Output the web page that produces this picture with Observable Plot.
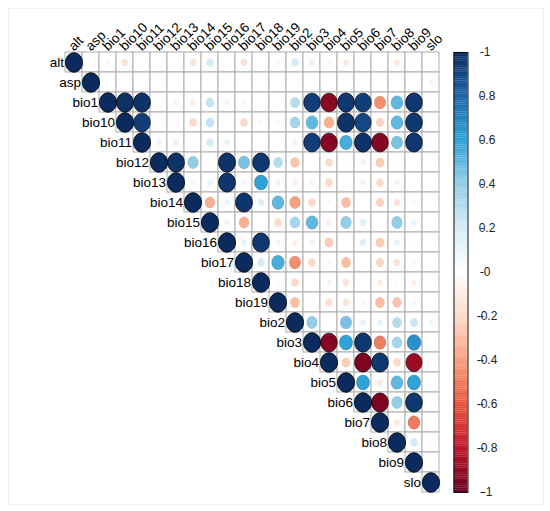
<!DOCTYPE html>
<html>
<head>
<meta charset="utf-8">
<script src="https://cdn.jsdelivr.net/npm/d3@7"></script>
<script src="https://cdn.jsdelivr.net/npm/@observablehq/plot@0.6"></script>
<style>
  html, body { margin: 0; padding: 0; background: #fff; }
  #wrap { position: relative; width: 550px; height: 511px; overflow: hidden; }
  #wrap svg { position: absolute; top: 0; }
  #frame { position: absolute; left: 8px; top: 8px; width: 534px; height: 495px; border: 1px solid #efefef; pointer-events: none; }
</style>
</head>
<body>
<div id="wrap"><div id="frame"></div></div>
<script>
// Variables (matrix order)
const vars = ["alt","asp","bio1","bio10","bio11","bio12","bio13","bio14","bio15","bio16","bio17","bio18","bio19","bio2","bio3","bio4","bio5","bio6","bio7","bio8","bio9","slo"];

// Upper-triangle correlations, each row starts at its diagonal
const rAlt   = [1, 0, -0.05, -0.15, 0, 0.02, 0, -0.15, 0.2, 0, -0.15, 0, -0.05, 0.2, 0.12, -0.05, -0.12, -0.03, 0, -0.12, -0.02, 0.02];
const rAsp   = [1, 0, 0, 0, 0, 0, 0, 0, 0, 0, 0, 0, 0, 0, 0, 0, 0, 0, 0, 0, 0.08];
const rBio1  = [1, 0.98, 0.97, 0.03, 0.08, -0.1, 0.25, 0.08, -0.05, 0, 0, 0.3, 0.93, -0.92, 0.95, 0.93, -0.45, 0.5, 0.95, 0];
const rBio10 = [1, 0.93, 0.02, 0.03, -0.2, 0.25, 0.02, -0.2, -0.05, -0.05, 0.35, 0.5, -0.35, 0.97, 0.9, -0.22, 0.5, 0.95, 0];
const rBio11 = [1, 0.1, 0.12, 0.03, 0.2, 0.12, 0, 0, 0, 0.1, 0.93, -0.93, 0.55, 0.97, -0.93, 0.45, 0.95, 0];
const rBio12 = [1, 0.97, 0.4, 0, 0.97, 0.45, 0.95, 0.3, -0.28, 0, -0.2, -0.03, 0.1, -0.25, 0.03, 0, 0];
const rBio13 = [1, 0.08, 0.12, 0.96, 0.08, 0.6, 0.1, -0.1, 0.08, -0.2, 0, 0.1, -0.2, 0.1, 0.02, 0];
const rBio14 = [1, -0.35, 0.1, 0.96, 0.15, 0.5, -0.4, -0.2, -0.05, -0.3, 0, -0.22, -0.15, -0.05, 0];
const rBio15 = [1, 0.1, -0.35, 0, -0.2, 0.35, 0.5, -0.1, 0.4, 0.15, 0, 0.4, 0.12, 0.02];
const rBio16 = [1, 0.12, 0.95, 0.08, -0.1, 0.1, -0.25, 0, 0.15, -0.25, 0.12, 0.03, 0];
const rBio17 = [1, 0.2, 0.55, -0.45, -0.2, -0.05, -0.3, 0, -0.22, -0.15, -0.05, 0];
const rBio18 = [1, 0.05, -0.2, 0, -0.08, -0.15, 0, -0.1, 0.05, -0.1, 0];
const rBio19 = [1, -0.3, -0.03, -0.18, -0.15, 0.06, -0.3, -0.28, 0.08, 0];
const rBio2  = [1, 0.4, 0, 0.45, 0.12, 0.12, 0.3, 0.22, 0.08];
const rBio3  = [1, -0.93, 0.6, 0.95, -0.5, 0.35, 0.65, 0.02];
const rBio4  = [1, -0.25, -0.95, 0.95, -0.2, -0.88, 0];
const rBio5  = [1, 0.6, -0.12, 0.5, 0.6, 0];
const rBio6  = [1, -0.95, 0.4, 0.95, 0.02];
const rBio7  = [1, -0.12, -0.5, 0];
const rBio8  = [1, 0.2, 0];
const rBio9  = [1, 0];
const rSlo   = [1];

// Color legend ticks and palette stops
const legendTicks = [-1, -0.8, -0.6, -0.4, -0.2, 0, 0.2, 0.4, 0.6, 0.8, 1];
const paletteStops = ["#67001F", "#C0142A", "#E9573F", "#F6A07F", "#FCDAC9", "#FFFFFF", "#D5EBF6", "#93CDE8", "#2FA2D6", "#1C63A8", "#0B2A5E"];

const rows = [rAlt, rAsp, rBio1, rBio10, rBio11, rBio12, rBio13, rBio14, rBio15, rBio16, rBio17, rBio18, rBio19, rBio2, rBio3, rBio4, rBio5, rBio6, rBio7, rBio8, rBio9, rSlo];
const data = rows.flatMap((vals, i) => vals.map((v, k) => ({row: vars[i], col: vars[i + k], v})));

const colorScale = {type: "linear", domain: legendTicks, range: paletteStops, interpolate: "rgb"};

// Ellipse symbol (cells are slightly taller than wide)
const ellipse = {
  draw(ctx, size) {
    const ry = Math.sqrt(size / Math.PI), rx = ry * 0.88, k = 0.5522847498;
    ctx.moveTo(rx, 0);
    ctx.bezierCurveTo(rx, k * ry, k * rx, ry, 0, ry);
    ctx.bezierCurveTo(-k * rx, ry, -rx, k * ry, -rx, 0);
    ctx.bezierCurveTo(-rx, -k * ry, -k * rx, -ry, 0, -ry);
    ctx.bezierCurveTo(k * rx, -ry, rx, -k * ry, rx, 0);
    ctx.closePath();
  }
};

const font = "Liberation Sans, Arial, sans-serif";

const main = Plot.plot({
  width: 550,
  height: 511,
  marginLeft: 58,
  marginRight: 104,
  marginTop: 52,
  marginBottom: 19,
  style: {fontFamily: font, background: "transparent"},
  x: {domain: vars, padding: 0, axis: null},
  y: {domain: vars, padding: 0, axis: null},
  r: {type: "sqrt", domain: [0, 1], range: [0, 9.7]},
  color: colorScale,
  opacity: {type: "linear", domain: [0, 1], range: [0, 1]},
  marks: [
    Plot.cell(data, {x: "col", y: "row", fill: "white", stroke: "#adadad", strokeWidth: 1, inset: 0}),
    Plot.dot(data.filter(d => d.v !== 0), {x: "col", y: "row", r: d => Math.abs(d.v), fill: "v", symbol: ellipse}),
    Plot.dot(data.filter(d => d.v !== 0), {x: "col", y: "row", r: d => Math.abs(d.v), fill: "none", stroke: "#000", strokeWidth: 1, strokeOpacity: d => Math.pow(Math.abs(d.v), 3) * 0.85, symbol: ellipse}),
    Plot.text(vars, {x: d => d, y: d => d, text: d => d, dx: -10, textAnchor: "end", fontSize: 13.5, fill: "#000"}),
    Plot.text(vars, {x: d => d, y: () => "alt", text: d => d, dx: -3, dy: -14, rotate: -45, textAnchor: "start", fontSize: 13.5, fill: "#000"})
  ]
});
main.style.left = "0px";
document.getElementById("wrap").appendChild(main);

// Color bar
const steps = d3.range(-1, 1, 0.01);
const bar = Plot.plot({
  width: 110,
  height: 511,
  marginLeft: 13.5,
  marginRight: 82.5,
  marginTop: 52,
  marginBottom: 19,
  style: {fontFamily: font, background: "transparent", color: "#222"},
  x: {domain: [0, 1], axis: null},
  y: {domain: [-1, 1], axis: null},
  color: colorScale,
  marks: [
    Plot.rect(steps, {x1: 0, x2: 1, y1: d => d, y2: d => d + 0.0105, fill: d => d + 0.005}),
    Plot.frame({stroke: "#111", strokeWidth: 1}),
    Plot.axisY(legendTicks, {anchor: "right", tickSize: 3, tickPadding: 4, tickFormat: d => String(d), textAnchor: "middle", dx: 12, fontSize: 12})
  ]
});
bar.style.left = "440px";
document.getElementById("wrap").appendChild(bar);
</script>
</body>
</html>
